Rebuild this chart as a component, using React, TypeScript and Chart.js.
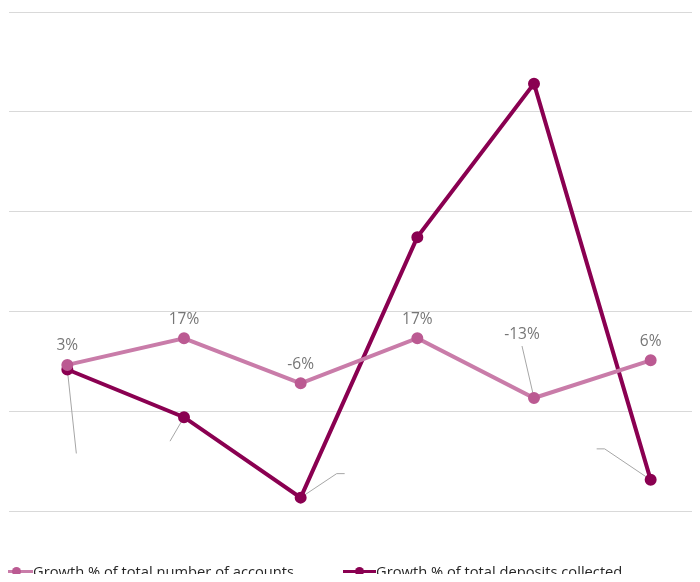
import React, { useEffect, useRef } from "react";
import { Chart, registerables } from "chart.js";

Chart.register(...registerables);

const categories = ["Period 1", "Period 2", "Period 3", "Period 4", "Period 5", "Period 6"];
const accountsGrowth = [3.2, 16.5, -6.0, 16.6, -13.4, 5.5];
const depositsGrowth = [0.9, -23.0, -63.3, 67.2, 144.1, -54.4];
const seriesNames = ["Growth % of total number of accounts", "Growth % of total deposits collected"];
const yMin = -70;
const yMax = 180;
const yStep = 50;

const PINK = "#c97ca9";
const PINK_PT = "#bb5a92";
const PLUM = "#8a0051";
const LEADER = "#a6a6a6";

// label centre offsets (px) for series 1, leader polylines for both series
const labelOffsets1 = [[0, -19], [0, -19], [0, -19], [0, -19], [-12, -63], [0, -19]];
const leaders1: (number[][] | null)[] = [null, null, null, null, [[-12, -52]], null];
const leaders2: (number[][] | null)[] = [
  [[9, 84]],
  [[-14, 24]],
  [[36, -24], [44, -24]],
  null,
  null,
  [[-46, -31], [-54, -31]],
];

const labelPlugin = {
  id: "labelPlugin",
  beforeDatasetsDraw(chart: any) {
    const ctx = chart.ctx;
    ctx.save();
    ctx.strokeStyle = LEADER;
    ctx.lineWidth = 1;
    [leaders1, leaders2].forEach((leaders, di) => {
      const meta = chart.getDatasetMeta(di);
      meta.data.forEach((pt: any, i: number) => {
        const l = leaders[i];
        if (!l) return;
        ctx.beginPath();
        ctx.moveTo(pt.x, pt.y);
        l.forEach(([dx, dy]) => ctx.lineTo(pt.x + dx, pt.y + dy));
        ctx.stroke();
      });
    });
    ctx.restore();
  },
  afterDatasetsDraw(chart: any) {
    const ctx = chart.ctx;
    ctx.save();
    ctx.font = "15.5px 'Open Sans', sans-serif";
    ctx.fillStyle = "#767676";
    ctx.textAlign = "center";
    ctx.textBaseline = "middle";
    const meta = chart.getDatasetMeta(0);
    meta.data.forEach((pt: any, i: number) => {
      const v = accountsGrowth[i];
      const [dx, dy] = labelOffsets1[i];
      ctx.fillText(`${Math.round(v)}%`, pt.x + dx, pt.y + dy);
    });
    ctx.restore();
  },
};

function Marker({ color, dot }: { color: string; dot: string }) {
  return (
    <span style={{ position: "relative", display: "inline-block", width: 33, height: 20 }}>
      <span style={{ position: "absolute", left: 0, right: 0, top: 8.5, height: 3, background: color }} />
      <span style={{ position: "absolute", left: 12, top: 5.5, width: 9, height: 9, borderRadius: "50%", background: dot }} />
    </span>
  );
}

export default function App() {
  const ref = useRef<HTMLCanvasElement | null>(null);

  useEffect(() => {
    if (!ref.current) return;
    const chart = new Chart(ref.current, {
      type: "line",
      data: {
        labels: categories,
        datasets: [
          {
            label: seriesNames[0],
            data: accountsGrowth,
            borderColor: PINK,
            backgroundColor: PINK_PT,
            pointBackgroundColor: PINK_PT,
            pointBorderColor: PINK_PT,
            borderWidth: 4,
            pointRadius: 4,
            tension: 0,
          },
          {
            label: seriesNames[1],
            data: depositsGrowth,
            borderColor: PLUM,
            backgroundColor: PLUM,
            pointBackgroundColor: PLUM,
            pointBorderColor: PLUM,
            borderWidth: 4,
            pointRadius: 4,
            tension: 0,
          },
        ],
      },
      options: {
        responsive: false,
        animation: false,
        layout: { autoPadding: false, padding: { left: 9, right: 1, top: 12, bottom: 71 } },
        plugins: { legend: { display: false } },
        scales: {
          x: { type: "category", offset: true, display: false },
          y: {
            min: yMin,
            max: yMax,
            ticks: { stepSize: yStep, display: false },
            grid: { color: "#d9d9d9", lineWidth: 1, drawTicks: false },
            border: { display: false },
          },
        },
      },
      plugins: [labelPlugin],
    });
    return () => chart.destroy();
  }, []);

  const textStyle: React.CSSProperties = {
    fontFamily: "'Open Sans', sans-serif",
    fontSize: 14.7,
    color: "#262626",
    whiteSpace: "nowrap",
    lineHeight: "20px",
  };

  return (
    <div style={{ position: "relative", margin: -8, width: 700, height: 582, overflow: "hidden", background: "#fff" }}>
      <canvas ref={ref} width={710} height={582} style={{ display: "block", width: 710, height: 582 }} />
      <div style={{ position: "absolute", top: 561, left: 0, height: 20, display: "flex", alignItems: "center" }}>
        <Marker color={PINK} dot={PINK_PT} />
        <span style={textStyle}>{seriesNames[0]}</span>
      </div>
      <div style={{ position: "absolute", top: 561, left: 343, height: 20, display: "flex", alignItems: "center" }}>
        <Marker color={PLUM} dot={PLUM} />
        <span style={textStyle}>{seriesNames[1]}</span>
      </div>
    </div>
  );
}
